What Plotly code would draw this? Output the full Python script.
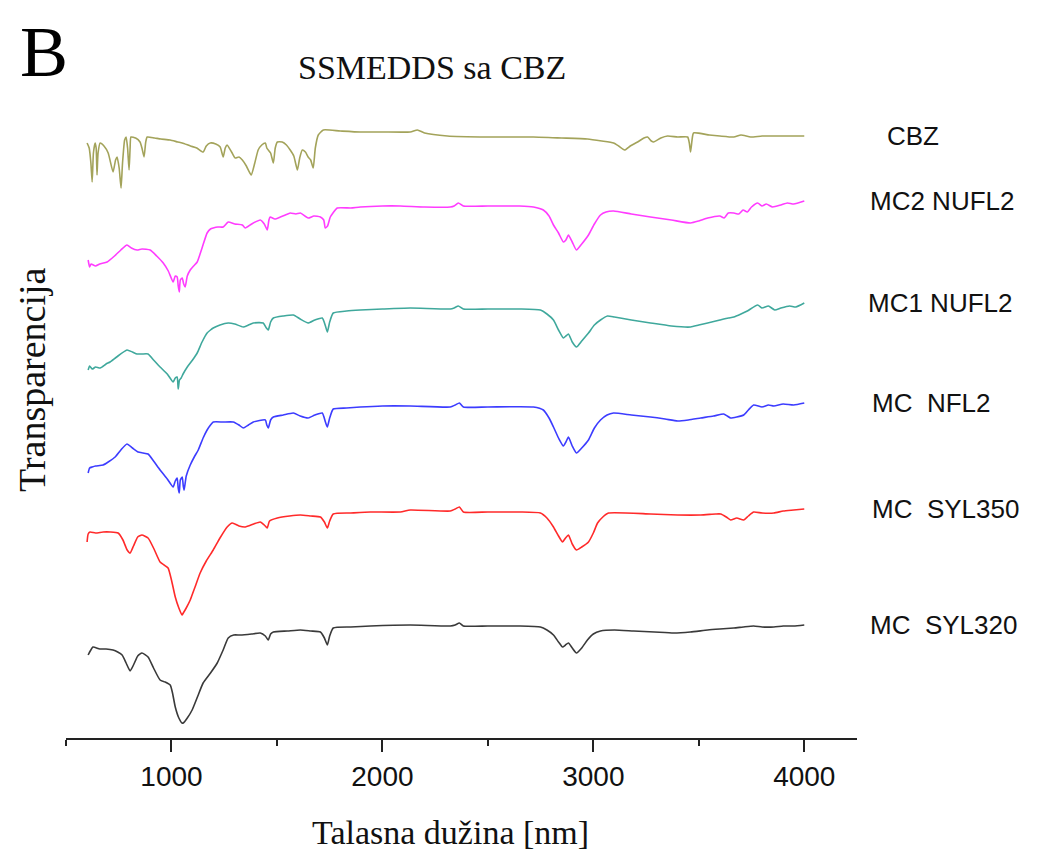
import plotly.graph_objects as go

# Wavenumber (cm-1) and transmittance (a.u., stacked)
cbz_x = [600, 610, 618, 624, 630, 638, 643, 647, 652, 662, 680, 700, 723, 735, 742, 752, 761, 768, 778,
         785, 792, 799, 804, 808, 830, 851, 860, 870, 878, 885, 920, 950, 994, 1030, 1051, 1090, 1120,
         1150, 1165, 1184, 1210, 1231, 1245, 1255, 1264, 1285, 1302, 1320, 1336, 1355, 1378, 1395, 1411,
         1428, 1445, 1452, 1459, 1470, 1483, 1492, 1502, 1525, 1545, 1563, 1580, 1597, 1608, 1620, 1635,
         1648, 1660, 1672, 1682, 1696, 1720, 1800, 1895, 2000, 2132, 2166, 2200, 2308, 2500, 2716, 2850,
         2972, 3040, 3096, 3120, 3148, 3175, 3210, 3240, 3257, 3275, 3286, 3320, 3352, 3400, 3447, 3455,
         3461, 3468, 3475, 3550, 3600, 3666, 3700, 3746, 3800, 3900, 4000]
cbz_y = [595, 590, 575, 556, 585, 595, 590, 563, 585, 595, 592, 585, 566, 578, 581, 570, 550, 575, 598,
         601, 590, 568, 590, 601, 600, 596, 590, 581, 596, 601, 600, 599, 598, 596, 595, 592, 590,
         586, 592, 595, 594, 591, 581, 590, 593, 586, 580, 581, 578, 572, 563, 575, 588,
         593, 595, 590, 588, 585, 575, 590, 596, 596, 593, 588, 582, 568, 580, 588, 586,
         581, 578, 570, 590, 603, 608, 607, 606, 606, 606, 608, 605, 602, 601, 601, 600,
         599, 597, 595, 592, 588, 592, 596, 600, 601, 597, 596, 600, 602, 601, 601, 595,
         586, 598, 605, 603, 602, 601, 603, 601, 602, 602, 602]

mc2_x = [605, 612, 619, 640, 660, 695, 730, 760, 789, 810, 837, 860, 899, 930, 961, 985, 1008, 1018,
         1027, 1032, 1037, 1042, 1051, 1058, 1065, 1075, 1089, 1105, 1122, 1145, 1169, 1185, 1198, 1220,
         1245, 1269, 1300, 1336, 1350, 1380, 1421, 1440, 1454, 1462, 1468, 1490, 1516, 1540, 1563, 1590,
         1611, 1648, 1675, 1706, 1722, 1729, 1740, 1753, 1786, 1850, 1895, 2000, 2085, 2200, 2322, 2340,
         2360, 2384, 2500, 2650, 2716, 2763, 2790, 2811, 2835, 2858, 2870, 2882, 2900, 2920, 2945, 2977,
         3005, 3034, 3060, 3096, 3180, 3271, 3370, 3461, 3500, 3542, 3600, 3620, 3640, 3666, 3690, 3710,
         3730, 3750, 3779, 3800, 3820, 3850, 3889, 3920, 3950, 4000]
mc2_y = [478, 471, 474, 472, 474, 476, 482, 488, 493, 490, 488, 489, 488, 482, 475, 467, 456, 462,
         461, 452, 446, 458, 460, 454, 451, 462, 468, 472, 476, 490, 505, 509, 510, 511,
         511, 516, 514, 513, 510, 514, 518, 514, 508, 518, 521, 519, 521, 523, 525, 524,
         525, 520, 522, 521, 518, 510, 512, 521, 530, 530, 531, 532, 532, 531, 531, 532,
         535, 532, 532, 532, 531, 528, 522, 513, 505, 496, 498, 503, 496, 488, 494, 503,
         514, 523, 526, 527, 524, 521, 518, 515, 517, 520, 522, 520, 525, 525, 524, 528,
         526, 531, 535, 532, 534, 531, 533, 535, 534, 537]

mc1_x = [605, 612, 625, 640, 662, 690, 709, 740, 789, 815, 837, 860, 889, 915, 946, 980, 1008, 1018,
         1027, 1032, 1038, 1046, 1055, 1075, 1100, 1122, 1145, 1169, 1185, 1198, 1230, 1269, 1300, 1340,
         1365, 1388, 1435, 1450, 1459, 1470, 1483, 1530, 1578, 1610, 1648, 1680, 1715, 1730, 1739, 1750,
         1767, 1830, 1895, 2000, 2132, 2322, 2340, 2360, 2384, 2500, 2650, 2749, 2780, 2811, 2835, 2858,
         2870, 2882, 2900, 2920, 2945, 2977, 3005, 3034, 3067, 3100, 3180, 3271, 3370, 3461, 3500, 3542,
         3600, 3640, 3666, 3700, 3730, 3779, 3800, 3830, 3860, 3889, 3930, 3960, 4000]
mc1_y = [368, 372, 369, 371, 370, 374, 376, 381, 388, 386, 384, 384, 384, 378, 371, 364, 356, 360,
         361, 349, 358, 360, 364, 371, 378, 385, 396, 405, 408, 410, 413, 415, 414, 411,
         413, 415, 415, 410, 408, 416, 420, 422, 423, 419, 415, 418, 420, 412, 406, 416,
         425, 427, 428, 429, 430, 429, 430, 432, 429, 429, 429, 428, 424, 418, 408, 400,
         402, 404, 396, 391, 397, 405, 413, 418, 422, 421, 418, 415, 412, 411, 413, 415,
         418, 420, 421, 424, 427, 433, 430, 432, 428, 430, 432, 431, 435]

nfl_x = [605, 612, 624, 640, 676, 700, 733, 760, 789, 815, 842, 865, 889, 915, 946, 980, 1008, 1018,
         1027, 1032, 1037, 1042, 1051, 1056, 1060, 1070, 1089, 1108, 1127, 1150, 1169, 1185, 1198, 1245,
         1293, 1320, 1340, 1365, 1388, 1445, 1452, 1459, 1470, 1483, 1530, 1578, 1610, 1648, 1680, 1715,
         1730, 1739, 1750, 1767, 1830, 1895, 2000, 2132, 2322, 2345, 2365, 2384, 2500, 2716, 2763, 2790,
         2811, 2835, 2858, 2870, 2882, 2900, 2920, 2945, 2977, 3005, 3034, 3065, 3096, 3180, 3271, 3340,
         3400, 3450, 3509, 3570, 3618, 3635, 3651, 3680, 3713, 3735, 3760, 3800, 3830, 3856, 3900, 3950,
         4000]
nfl_y = [265, 270, 271, 272, 273, 276, 281, 288, 294, 290, 286, 285, 284, 277, 268, 259, 251, 257,
         260, 250, 245, 258, 261, 252, 248, 262, 273, 281, 288, 300, 308, 313, 316, 316,
         316, 313, 310, 313, 316, 318, 313, 310, 318, 321, 323, 325, 322, 320, 323, 325,
         316, 311, 320, 329, 330, 331, 332, 332, 331, 333, 335, 331, 331, 331, 328, 320,
         311, 300, 292, 296, 301, 292, 285, 290, 298, 310, 318, 323, 325, 323, 321, 319,
         317, 318, 320, 322, 324, 322, 320, 321, 323, 328, 333, 331, 333, 332, 334, 333,
         335]

s350_x = [600, 605, 614, 640, 676, 710, 747, 770, 790, 804, 820, 840, 860, 889, 915, 946, 965, 984,
          1000, 1018, 1035, 1050, 1056, 1070, 1089, 1110, 1136, 1165, 1198, 1230, 1264, 1288, 1320, 1350,
          1390, 1421, 1440, 1454, 1465, 1502, 1560, 1611, 1660, 1706, 1725, 1739, 1750, 1767, 1850, 1943,
          2085, 2132, 2322, 2345, 2365, 2384, 2500, 2650, 2749, 2780, 2811, 2835, 2854, 2868, 2882, 2900,
          2920, 2945, 2977, 3000, 3020, 3045, 3072, 3271, 3400, 3509, 3580, 3604, 3630, 3651, 3680, 3713,
          3735, 3760, 3800, 3856, 3900, 3950, 4000]
s350_y = [196, 204, 206, 205, 206, 206, 205, 198, 188, 185, 192, 201, 203, 200, 190, 176, 173, 170,
          158, 141, 130, 123, 125, 130, 138, 150, 165, 177, 188, 200, 211, 215, 212, 211,
          214, 216, 213, 210, 217, 220, 222, 223, 222, 221, 216, 210, 217, 224, 225, 226,
          226, 228, 227, 229, 231, 226, 226, 226, 225, 220, 211, 202, 196, 200, 203, 194,
          188, 191, 196, 205, 215, 221, 225, 224, 223, 223, 224, 224, 221, 218, 220, 218,
          222, 226, 225, 225, 227, 228, 229]

s320_x = [605, 615, 628, 660, 690, 723, 745, 766, 785, 804, 820, 840, 860, 889, 915, 946, 970, 994,
          1005, 1018, 1035, 1050, 1056, 1075, 1098, 1125, 1150, 1185, 1217, 1245, 1269, 1295, 1326, 1380,
          1421, 1445, 1459, 1470, 1483, 1550, 1611, 1660, 1706, 1725, 1739, 1750, 1767, 1850, 1943, 2132,
          2322, 2345, 2365, 2384, 2500, 2650, 2749, 2780, 2811, 2835, 2854, 2868, 2882, 2900, 2920, 2945,
          2972, 3000, 3034, 3100, 3191, 3290, 3381, 3460, 3542, 3600, 3666, 3710, 3760, 3800, 3856, 3900,
          3950, 4000]
s320_y = [83, 87, 91, 89, 89, 88, 86, 83, 75, 67, 73, 82, 85, 81, 70, 58, 56, 53,
          45, 31, 20, 15, 15, 20, 28, 42, 55, 65, 75, 88, 100, 103, 103, 104,
          105, 102, 98, 104, 106, 107, 108, 107, 106, 100, 93, 102, 110, 111, 112, 113,
          112, 113, 115, 112, 112, 112, 111, 108, 103, 96, 91, 93, 95, 90, 85, 90,
          98, 104, 107, 108, 107, 106, 105, 106, 108, 109, 110, 111, 112, 111, 111, 112,
          112, 113]

names = ["CBZ", "MC2 NUFL2", "MC1 NUFL2", "MC\u00a0 NFL2", "MC\u00a0 SYL350", "MC\u00a0 SYL320"]
colors = ["#a3a35a", "#ff3cff", "#3fa89c", "#3c3cff", "#ff2a2a", "#3a3a3a"]
xs = [cbz_x, mc2_x, mc1_x, nfl_x, s350_x, s320_x]
ys = [cbz_y, mc2_y, mc1_y, nfl_y, s350_y, s320_y]
label_px = [885, 868, 866, 870, 870, 868]

SANS = "Liberation Sans, Arial, sans-serif"
SERIF = "Liberation Serif, Times New Roman, serif"

fig = go.Figure()
for nm, c, x, y in zip(names, colors, xs, ys):
    fig.add_trace(go.Scatter(x=x, y=y, mode="lines", name=nm,
                             line=dict(color=c, width=1.6, shape="spline", smoothing=0.5),
                             showlegend=False))


def px(xp):
    return (xp - 66) / 791


def py(yp):
    return (738 - yp) / 638


ann = []
for nm, y, lx in zip(names, ys, label_px):
    ann.append(dict(text=nm, xref="paper", yref="y", x=px(lx), y=y[-1],
                    xanchor="left", yanchor="middle", showarrow=False,
                    font=dict(family=SANS, size=26, color="#111")))
ann.append(dict(text="B", xref="paper", yref="paper", x=px(44), y=py(52),
                xanchor="center", yanchor="middle", showarrow=False,
                font=dict(family=SERIF, size=72, color="#000")))
ann.append(dict(text="Transparencija", xref="paper", yref="paper", x=px(32), y=py(380),
                textangle=-90, xanchor="center", yanchor="middle", showarrow=False,
                font=dict(family=SERIF, size=38, color="#111")))
ann.append(dict(text="Talasna dužina [nm]", xref="paper", yref="paper", x=px(450), y=py(832),
                xanchor="center", yanchor="middle", showarrow=False,
                font=dict(family=SERIF, size=34, color="#111")))
ann.append(dict(text="SSMEDDS sa CBZ", xref="paper", yref="paper", x=px(432), y=py(68),
                xanchor="center", yanchor="middle", showarrow=False,
                font=dict(family=SERIF, size=34, color="#111")))

# page body has an 8px margin, so the plot box is shifted accordingly
fig.update_layout(
    width=1044, height=857,
    margin=dict(l=58, r=195, t=92, b=127),
    paper_bgcolor="white", plot_bgcolor="white",
    annotations=ann,
    xaxis=dict(range=[500, 4250], showgrid=False, zeroline=False, showline=True,
               linecolor="#222", linewidth=2, ticks="outside", ticklen=12, tickwidth=2,
               tickcolor="#222", tick0=0, dtick=1000,
               minor=dict(ticks="outside", ticklen=6, tickwidth=2, tickcolor="#222",
                          tick0=500, dtick=500),
               tickfont=dict(family=SANS, size=28, color="#111")),
    yaxis=dict(range=[0, 638], visible=False),
)

fig.write_html("out.html")
